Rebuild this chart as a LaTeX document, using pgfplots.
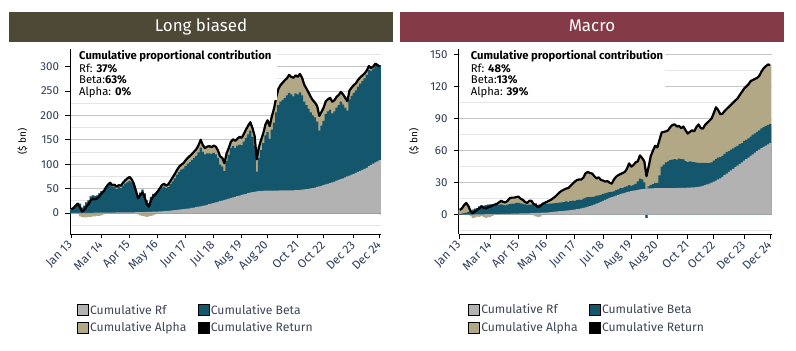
\documentclass[border=0pt]{standalone}
\usepackage{fontspec}
\setmainfont{Fira Sans}
\usepackage{pgfplots}
\usepackage{pgfplotstable}
\pgfplotsset{compat=1.18}
\definecolor{rfgray}{HTML}{B2B2B2}
\definecolor{betateal}{HTML}{14566B}
\definecolor{alphatan}{HTML}{B3A886}
\definecolor{lbbar}{HTML}{4E4837}
\definecolor{mabar}{HTML}{843B47}
\definecolor{ticktxt}{HTML}{2F3D5C}
\definecolor{labtxt}{HTML}{7A6A66}
\definecolor{legtxt}{HTML}{3F4456}
\definecolor{majgrid}{HTML}{C6C6C6}
\definecolor{mingrid}{HTML}{E6E6E6}

\pgfplotstableread{
i rf beta alpha ret
0 0.0 7.5 0.5 8
1 0.1 9.6 0.3 10
2 0.1 15.4 -0.5 15
3 0.2 20.8 -2 19
4 0.2 18.8 -7 12
5 0.3 10.7 -8 3
6 0.3 14.7 -9 6
7 0.4 21.6 -9 13
8 0.4 25.6 -8 18
9 0.5 33.5 -8 26
10 0.5 35.5 -7 29
11 0.6 34.4 -7 28
12 0.6 35.4 -6 30
13 0.7 39.3 -6 34
14 0.7 44.3 -5 40
15 0.8 46.2 -3 44
16 0.8 50.2 1 52
17 0.9 54.1 3 58
18 0.9 57.1 4 62
19 1.0 53.0 3 57
20 1.0 53.0 4 58
21 1.1 47.9 5 54
22 1.1 51.9 4 57
23 1.2 49.8 5 56
24 1.2 54.8 6 62
25 1.3 58.7 7 67
26 1.3 61.7 8 71
27 1.4 64.6 8 74
28 1.4 61.6 6 69
29 1.5 54.5 4 60
30 1.6 42.4 1 45
31 1.7 31.3 -3 30
32 1.8 40.2 -5 37
33 1.9 46.1 -6 42
34 2.0 38.0 -7 33
35 2.1 23.9 -8 18
36 2.2 17.8 -7 13
37 2.4 30.6 -6 27
38 2.6 36.4 -5 34
39 2.8 38.2 -3 38
40 3.0 40.0 1 44
41 3.3 43.7 3 50
42 3.6 48.4 5 57
43 3.9 50.1 6 60
44 4.2 46.8 5 56
45 4.6 48.4 6 59
46 5.0 54.0 7 66
47 5.4 59.6 8 73
48 5.8 65.2 9 80
49 6.3 71.7 10 88
50 6.8 77.2 11 95
51 7.3 81.7 10 99
52 7.8 83.2 11 102
53 8.4 87.6 12 108
54 9.0 92.0 12 113
55 9.7 94.3 13 117
56 10.4 98.6 12 121
57 11.2 101.8 13 126
58 12.0 105.0 14 131
59 12.9 111.1 15 139
60 13.8 120.2 16 150
61 14.8 110.2 14 139
62 15.8 104.2 13 133
63 16.9 105.1 14 136
64 18.0 104.0 15 137
65 19.2 101.8 14 135
66 20.4 102.6 15 138
67 21.6 98.4 16 136
68 22.9 90.1 15 128
69 24.2 74.8 17 116
70 25.5 69.5 18 113
71 26.8 59.2 16 102
72 28.1 78.9 15 122
73 29.4 89.6 14 133
74 30.7 102.3 13 146
75 32.0 105.0 14 151
76 33.3 99.7 15 148
77 34.6 103.4 14 152
78 35.8 104.2 16 156
79 37.0 102.0 15 154
80 38.2 107.8 16 162
81 39.4 114.6 17 171
82 40.5 120.5 18 179
83 41.6 127.4 17 186
84 42.6 113.4 18 174
85 43.5 94.5 20 158
86 44.2 40.8 25 110
87 44.8 68.2 22 135
88 45.2 83.8 21 150
89 45.5 97.5 20 163
90 45.7 113.3 22 181
91 45.8 120.2 24 190
92 45.9 106.1 26 178
93 46.0 125.0 27 198
94 46.0 139.0 29 214
95 46.1 159.9 31 237
96 46.1 174.9 33 254
97 46.2 181.8 34 262
98 46.2 185.8 35 267
99 46.3 189.7 36 272
100 46.3 194.7 35 276
101 46.4 199.6 37 283
102 46.5 196.5 36 279
103 46.6 192.4 38 277
104 46.8 198.2 37 282
105 47.0 196.0 36 279
106 47.3 199.7 38 285
107 47.7 193.3 36 277
108 48.2 179.8 35 263
109 48.8 172.2 34 255
110 49.5 164.5 33 247
111 50.3 155.7 32 238
112 51.2 148.8 31 231
113 52.2 143.8 30 226
114 53.3 133.7 32 219
115 54.5 114.5 30 199
116 55.8 123.2 28 207
117 57.1 131.9 27 216
118 58.5 144.5 26 229
119 59.9 148.1 25 233
120 61.4 150.6 24 236
121 62.9 141.1 24 228
122 64.5 143.5 23 231
123 66.1 149.9 22 238
124 67.8 153.2 21 242
125 69.5 158.5 20 248
126 71.2 150.8 21 243
127 73.0 143.0 20 236
128 74.8 135.2 19 229
129 76.6 156.4 18 251
130 78.5 161.5 17 257
131 80.4 165.6 16 262
132 82.3 168.7 15 266
133 84.3 174.7 14 273
134 86.3 178.7 13 278
135 88.4 181.6 12 282
136 90.5 185.5 10 286
137 92.6 190.4 9 292
138 96.0 197.0 8 301
139 98.5 192.5 6 297
140 101.0 195.0 4 300
141 103.5 200.5 2 306
142 106.0 197.0 0 303
143 108.5 194.5 -3 300
}\longdata

\pgfplotstableread{
i rf beta alpha ret
0 0.0 0.5 4.0 4.5
1 0.0 1 5.0 6
2 0.1 1.5 7.4 9
3 0.1 2 8.9 11
4 0.2 2.5 5.3 8
5 0.2 4 -1.2 3
6 0.2 4.5 -3.2 1.5
7 0.3 5.5 -2.8 3
8 0.3 6 -1.8 4.5
9 0.4 7.5 -1.9 6
10 0.4 8.5 -1.4 7.5
11 0.4 8 -1.9 6.5
12 0.5 8.5 -3.0 6
13 0.5 9 -2.5 7
14 0.6 9 -2.1 7.5
15 0.6 9 -1.1 8.5
16 0.6 9 -0.1 9.5
17 0.7 8.5 0.8 10
18 0.7 8.5 2.3 11.5
19 0.8 9 3.2 13
20 0.8 8.5 2.7 12
21 0.8 8 2.7 11.5
22 0.9 8.5 3.6 13
23 0.9 9 5.6 15.5
24 1.0 9.5 5.5 16
25 1.0 9.5 5.5 16
26 1.1 10 5.4 16.5
27 1.1 10 5.9 17
28 1.2 9.5 4.3 15
29 1.2 9 3.8 14
30 1.3 8.5 2.2 12
31 1.3 8 1.7 11
32 1.4 8 3.6 13
33 1.5 8 3.5 13
34 1.5 9 -0.5 10
35 1.6 9 -1.6 9
36 1.7 7.5 -2.2 7
37 1.8 8 -1.8 8
38 1.9 8.5 -0.4 10
39 2.0 8 1.0 11
40 2.1 8 1.9 12
41 2.3 8 2.7 13
42 2.5 8 3.5 14
43 2.7 8 4.8 15.5
44 2.9 8 6.1 17
45 3.1 8 7.9 19
46 3.3 8 9.7 21
47 3.5 8 11.0 22.5
48 3.7 8 11.8 23.5
49 3.9 8.5 12.1 24.5
50 4.1 8 12.9 25
51 4.3 8.5 14.2 27
52 4.6 8.5 15.9 29
53 4.9 8 18.1 31
54 5.2 8.5 18.8 32.5
55 5.6 8.5 18.9 33
56 6.0 8 19.0 33
57 6.5 8.5 20.0 35
58 7.0 9 23.0 39
59 7.5 9 23.5 40
60 8.0 8.5 22.5 39
61 8.7 8 21.8 38.5
62 9.5 7.5 19.0 36
63 10.3 7.5 16.2 34
64 11.2 7 16.8 35
65 12.1 6.5 13.9 32.5
66 13.0 6.5 12.5 32
67 13.9 6 11.1 31
68 14.8 6 10.7 31.5
69 15.7 5.5 8.8 30
70 16.5 5 7.5 29
71 17.3 4.5 11.2 33
72 18.0 5 12.5 35.5
73 18.7 5 13.3 37
74 19.3 5.5 13.2 38
75 19.9 5 14.1 39
76 20.5 5.5 14.0 40
77 21.1 5.5 16.4 43
78 21.6 6 20.4 48
79 22.1 5 17.9 45
80 22.5 5.5 18.5 46.5
81 22.9 6 20.1 49
82 23.3 8 18.7 50
83 23.7 10 21.8 55.5
84 24.0 9 20.0 53
85 24.3 6 19.7 50
86 24.5 -3 14.5 36
87 24.6 2 18.4 45
88 24.7 3 27.3 55
89 24.7 4 31.3 60
90 24.8 5 34.7 64.5
91 24.8 5 33.2 63
92 24.8 12 33.2 70
93 24.9 20 32.1 77
94 24.9 22 30.6 77.5
95 24.9 24 29.1 78
96 25.0 25 29.0 79
97 25.0 26 31.0 82
98 25.0 26.5 32.5 84
99 25.0 27 32.5 84.5
100 25.1 26.5 30.9 82.5
101 25.1 27.5 30.4 83
102 25.1 27 28.9 81
103 25.2 26.5 30.8 82.5
104 25.2 25 28.8 79
105 25.3 24 26.7 76
106 25.4 24.5 27.6 77.5
107 25.5 24 29.5 79
108 25.6 23.5 28.9 78
109 25.8 23 33.2 82
110 26.1 22.5 35.9 84.5
111 26.5 22 32.5 81
112 27.0 21.5 32.0 80.5
113 27.6 21 35.4 84
114 28.3 20 37.7 86
115 29.1 19.5 39.4 88
116 30.0 19 41.0 90
117 31.0 19.5 44.5 95
118 32.0 20 48.5 100.5
119 33.0 20.5 44.5 98
120 34.0 20 40.0 94
121 35.5 19.5 39.5 94.5
122 37.0 20 40.0 97
123 38.5 20 40.5 99
124 40.0 19.5 41.5 101
125 41.5 19.5 42.0 103
126 43.0 19 43.0 105
127 44.5 19 43.5 107
128 46.0 18.5 44.5 109
129 47.5 18.5 46.0 112
130 49.0 18 48.0 115
131 50.5 18.5 49.0 118
132 52.0 18 50.0 120
133 53.5 18 50.5 122
134 55.0 18 52.0 125
135 56.5 18.5 51.0 126
136 58.0 18 51.0 127
137 59.5 18 50.5 128
138 61.0 18 51.0 130
139 62.2 18.5 53.3 134
140 63.4 18.5 55.1 137
141 64.6 18.5 55.9 139
142 65.8 18 56.7 140.5
143 67.0 18 55.0 140
}\macrodata

\pgfplotsset{
  panel/.style={
    scale only axis, height=185bp,
    xmin=-0.6, xmax=143.6,
    axis lines=left, axis line style={-, black, line width=0.9bp},
    xtick={0,14,27,40,53,66,79,91,105,117,131,143},
    xticklabels={Jan 13,Mar 14,Apr 15,May 16,Jun 17,Jul 18,Aug 19,Aug 20,Oct 21,Oct 22,Dec 23,Dec 24},
    tick align=outside, major tick length=4.5bp, minor tick length=0pt,
    tick style={black, line width=0.9bp},
    ymajorgrids, yminorgrids,
    major grid style={majgrid, line width=0.8bp},
    minor grid style={mingrid, line width=0.8bp},
    /pgf/number format/assume math mode=true,
    ticklabel style={font=\fontsize{11.6}{13}\selectfont, text=ticktxt},
    xticklabel style={font=\fontsize{12}{14}\selectfont, yshift=-4bp, rotate=45, anchor=east, inner sep=1bp},
    yticklabel style={xshift=-3bp},
    ylabel={(\$ bn)},
    ylabel style={font=\fontsize{12}{14}\selectfont, text=labtxt},
    legend columns=2, legend cell align=left,
    legend image code/.code={\fill[##1] (0bp,-5.5bp) rectangle (11bp,5.5bp);},
    legend style={draw=none, fill=none, inner sep=0pt, anchor=north west,
      font=\fontsize{12.2}{14}\selectfont, text=legtxt,
      row sep=4bp,
      nodes={inner sep=1.5bp},
      /tikz/every even column/.append style={column sep=10bp}},
  },
  tanbar/.style={ybar, bar width=1.06, bar shift=0pt, draw=none, fill=alphatan, forget plot},
  tealbar/.style={ybar, bar width=1.06, bar shift=0pt, draw=none, fill=betateal, forget plot},
  graybar/.style={ybar, bar width=1.06, bar shift=0pt, draw=none, fill=rfgray, forget plot},
  retline/.style={black, line width=2.2bp, line join=round, forget plot},
}
\tikzset{annot/.style={anchor=base west, inner sep=0pt, font=\fontsize{11.3}{13}\selectfont}}

\begin{document}
\begin{tikzpicture}
\useasboundingbox (0,0) rectangle (796bp,351bp);
\fill[lbbar] (9bp,309bp) rectangle (393bp,339bp);
\node[anchor=base, text=white, font=\fontsize{17}{20}\selectfont, inner sep=0pt] at (201bp,319.5bp) {Long biased};
\fill[mabar] (400bp,309bp) rectangle (784bp,339bp);
\node[anchor=base, text=white, font=\fontsize{17}{20}\selectfont, inner sep=0pt] at (592bp,319.5bp) {Macro};

\begin{axis}[panel, at={(70bp,117bp)}, anchor=south west, width=311bp,
  ymin=-43, ymax=336, ytick={0,50,...,300}, minor ytick={-25,25,...,325},
  every axis y label/.style={at={(axis description cs:-0.153,0.5)}, rotate=90, anchor=center},
  legend style={at={(axis description cs:0.0225,-0.372)}}]
\addplot[tanbar] table[x=i, y expr={\thisrow{rf}+max(\thisrow{beta},0)+max(\thisrow{alpha},0)}] {\longdata};
\addplot[tealbar] table[x=i, y expr={\thisrow{rf}+max(\thisrow{beta},0)}] {\longdata};
\addplot[graybar] table[x=i, y=rf] {\longdata};
\addplot[tanbar] table[x=i, y expr={min(\thisrow{beta},0)+min(\thisrow{alpha},0)}] {\longdata};
\addplot[tealbar] table[x=i, y expr={min(\thisrow{beta},0)}] {\longdata};
\addplot[retline] table[x=i, y=ret] {\longdata};
\addlegendimage{fill=rfgray}\addlegendentry{Cumulative Rf}
\addlegendimage{fill=betateal}\addlegendentry{Cumulative Beta}
\addlegendimage{fill=alphatan}\addlegendentry{Cumulative Alpha}
\addlegendimage{fill=black}\addlegendentry{Cumulative Return}
\fill[white] (rel axis cs:0.004,0.998) rectangle (rel axis cs:0.666,0.725);
\node[annot, font=\fontsize{11.3}{13}\selectfont\bfseries] at (rel axis cs:0.029,0.943) {Cumulative proportional contribution};
\node[annot] at (rel axis cs:0.029,0.873) {Rf: \textbf{37\%}};
\node[annot] at (rel axis cs:0.029,0.811) {Beta:\textbf{63\%}};
\node[annot] at (rel axis cs:0.029,0.750) {Alpha: \textbf{0\%}};
\end{axis}

\begin{axis}[panel, at={(458.5bp,117bp)}, anchor=south west, width=313bp,
  ymin=-18, ymax=155, ytick={0,30,...,150}, minor ytick={-15,15,...,135},
  every axis y label/.style={at={(axis description cs:-0.142,0.5)}, rotate=90, anchor=center},
  legend style={at={(axis description cs:0.031,-0.372)}}]
\addplot[tanbar] table[x=i, y expr={\thisrow{rf}+max(\thisrow{beta},0)+max(\thisrow{alpha},0)}] {\macrodata};
\addplot[tealbar] table[x=i, y expr={\thisrow{rf}+max(\thisrow{beta},0)}] {\macrodata};
\addplot[graybar] table[x=i, y=rf] {\macrodata};
\addplot[tanbar] table[x=i, y expr={min(\thisrow{beta},0)+min(\thisrow{alpha},0)}] {\macrodata};
\addplot[tealbar] table[x=i, y expr={min(\thisrow{beta},0)}] {\macrodata};
\addplot[retline] table[x=i, y=ret] {\macrodata};
\addlegendimage{fill=rfgray}\addlegendentry{Cumulative Rf}
\addlegendimage{fill=betateal}\addlegendentry{Cumulative Beta}
\addlegendimage{fill=alphatan}\addlegendentry{Cumulative Alpha}
\addlegendimage{fill=black}\addlegendentry{Cumulative Return}
\fill[white] (rel axis cs:0.004,0.998) rectangle (rel axis cs:0.66,0.725);
\node[annot, font=\fontsize{11.3}{13}\selectfont\bfseries] at (rel axis cs:0.039,0.943) {Cumulative proportional contribution};
\node[annot] at (rel axis cs:0.039,0.873) {Rf: \textbf{48\%}};
\node[annot] at (rel axis cs:0.039,0.811) {Beta:\textbf{13\%}};
\node[annot] at (rel axis cs:0.039,0.750) {Alpha: \textbf{39\%}};
\end{axis}
\end{tikzpicture}
\end{document}
